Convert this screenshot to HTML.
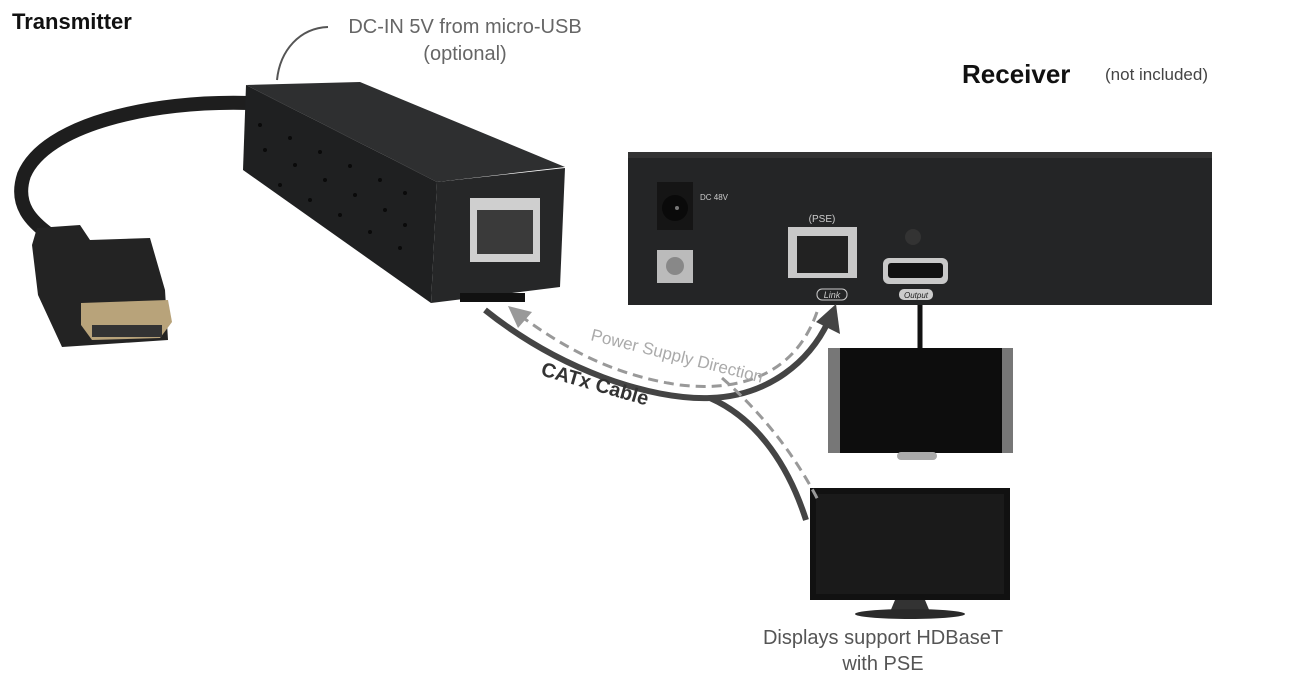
<!DOCTYPE html>
<html><head><meta charset="utf-8"><style>
html,body{margin:0;padding:0;background:#fff}
svg{display:block}
</style></head><body>
<svg width="1293" height="683" viewBox="0 0 1293 683" xmlns="http://www.w3.org/2000/svg" font-family="Liberation Sans, sans-serif">
<rect width="1293" height="683" fill="#fff"/>
<text x="12" y="29" font-size="22" font-weight="bold" fill="#111">Transmitter</text>
<text x="465" y="33" font-size="20" fill="#666" text-anchor="middle">DC-IN 5V from micro-USB</text>
<text x="465" y="60" font-size="20" fill="#666" text-anchor="middle">(optional)</text>
<path d="M277,80 C280,50 300,28 328,27" stroke="#555" stroke-width="2" fill="none"/>
<text x="962" y="83" font-size="26" font-weight="bold" fill="#111">Receiver</text>
<text x="1105" y="80" font-size="17" fill="#444">(not included)</text>

<!-- HDMI cable -->
<path d="M250,103 C150,100 45,125 24,175 C14,205 32,222 50,235" stroke="#1e1e1e" stroke-width="14" fill="none"/>
<!-- HDMI plug -->
<polygon points="37,228 80,225 90,240 150,238 165,290 168,340 62,347 38,295 32,245" fill="#232323"/>
<polygon points="81,303 168,300 172,322 160,338 92,340 81,325" fill="#b8a37a"/>
<rect x="92" y="325" width="70" height="12" fill="#333"/>

<!-- Transmitter box -->
<polygon points="246,85 360,82 565,167 437,182" fill="#2e2f30"/>
<polygon points="246,85 437,182 431,303 243,170" fill="#1f2021"/>
<polygon points="437,182 565,168 560,287 431,303" fill="#262728"/>
<g fill="#0a0a0a">
<circle cx="260" cy="125" r="2"/><circle cx="290" cy="138" r="2"/><circle cx="320" cy="152" r="2"/><circle cx="350" cy="166" r="2"/><circle cx="380" cy="180" r="2"/><circle cx="405" cy="193" r="2"/>
<circle cx="265" cy="150" r="2"/><circle cx="295" cy="165" r="2"/><circle cx="325" cy="180" r="2"/><circle cx="355" cy="195" r="2"/><circle cx="385" cy="210" r="2"/><circle cx="405" cy="225" r="2"/>
<circle cx="280" cy="185" r="2"/><circle cx="310" cy="200" r="2"/><circle cx="340" cy="215" r="2"/><circle cx="370" cy="232" r="2"/><circle cx="400" cy="248" r="2"/>
</g>
<rect x="470" y="198" width="70" height="64" fill="#cfcfcf"/>
<rect x="477" y="210" width="56" height="44" fill="#3a3a3a"/>
<rect x="460" y="293" width="65" height="9" fill="#111"/>

<!-- Receiver box -->
<rect x="628" y="152" width="584" height="153" fill="#242526"/>
<rect x="628" y="152" width="584" height="6" fill="#333"/>
<rect x="657" y="182" width="36" height="48" fill="#151515"/>
<circle cx="675" cy="208" r="13" fill="#0a0a0a"/><circle cx="677" cy="208" r="2" fill="#777"/>
<text x="700" y="200" font-size="8" fill="#ccc">DC 48V</text>
<rect x="657" y="250" width="36" height="33" fill="#bbb"/>
<circle cx="675" cy="266" r="9" fill="#888"/>
<rect x="788" y="227" width="69" height="51" fill="#c8c8c8"/>
<rect x="797" y="236" width="51" height="37" fill="#222"/>
<text x="822" y="222" font-size="10" fill="#ccc" text-anchor="middle">(PSE)</text>
<rect x="883" y="258" width="65" height="26" rx="6" fill="#c8c8c8"/>
<rect x="888" y="263" width="55" height="15" rx="3" fill="#111"/>
<circle cx="913" cy="237" r="8" fill="#333"/>
<rect x="817" y="289" width="30" height="11" rx="5" fill="none" stroke="#ccc" stroke-width="1"/>
<text x="832" y="298" font-size="9" fill="#ccc" text-anchor="middle" font-style="italic">Link</text>
<rect x="899" y="289" width="34" height="11" rx="5" fill="#ccc"/>
<text x="916" y="298" font-size="8" fill="#222" text-anchor="middle" font-style="italic">Output</text>

<line x1="920" y1="305" x2="920" y2="348" stroke="#111" stroke-width="5"/>
<!-- Monitor 1 -->
<rect x="828" y="348" width="185" height="105" fill="#777"/>
<rect x="840" y="348" width="162" height="105" fill="#0d0d0d"/>
<rect x="897" y="452" width="40" height="8" rx="4" fill="#aaa"/>
<!-- Monitor 2 -->
<rect x="810" y="488" width="200" height="112" fill="#111"/>
<rect x="816" y="494" width="188" height="100" fill="#1a1a1a"/>
<path d="M895,600 L925,600 L930,612 L890,612Z" fill="#333"/>
<ellipse cx="910" cy="614" rx="55" ry="5" fill="#2a2a2a"/>
<text x="883" y="644" font-size="20" fill="#555" text-anchor="middle">Displays support HDBaseT</text>
<text x="883" y="670" font-size="20" fill="#555" text-anchor="middle">with PSE</text>

<!-- Cables -->
<path d="M485,310 C560,370 650,400 710,398 C770,396 810,360 828,322" stroke="#444" stroke-width="6" fill="none"/>
<polygon points="836,304 840,334 816,322" fill="#444"/>
<path d="M710,398 C760,420 790,470 806,520" stroke="#444" stroke-width="6" fill="none"/>
<path d="M817,312 C795,375 740,392 680,385 C610,375 560,345 518,314" stroke="#999" stroke-width="3" stroke-dasharray="10,6" fill="none"/>
<polygon points="508,306 532,312 518,328" fill="#999"/>
<path d="M722,378 C770,420 800,465 818,500" stroke="#999" stroke-width="3" stroke-dasharray="10,6" fill="none"/>
<text transform="translate(590,340) rotate(14)" font-size="17" fill="#aaa">Power Supply Direction</text>
<text transform="translate(540,375) rotate(16)" font-size="20" font-weight="bold" fill="#333">CATx Cable</text>
</svg>
</body></html>
